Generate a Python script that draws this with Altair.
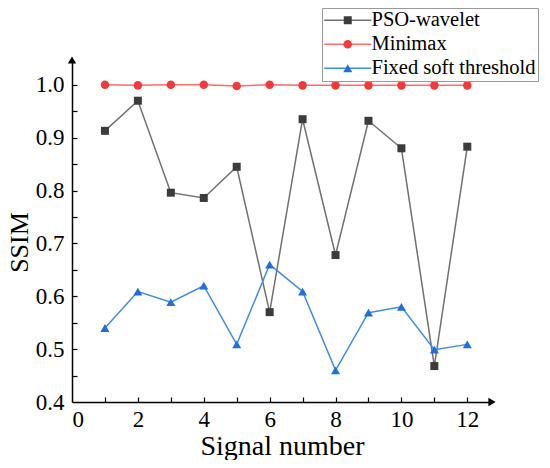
import altair as alt
import pandas as pd

signals = list(range(1, 13))
methods = ["PSO-wavelet", "Minimax", "Fixed soft threshold"]
pso = [0.913, 0.970, 0.796, 0.786, 0.845, 0.570, 0.935, 0.678, 0.932, 0.880, 0.468, 0.883]
minimax = [1.000, 0.999, 1.000, 1.000, 0.998, 1.000, 0.999, 0.999, 0.999, 0.999, 0.999, 0.999]
fixed = [0.540, 0.609, 0.589, 0.620, 0.509, 0.660, 0.609, 0.460, 0.569, 0.580, 0.499, 0.509]
x_ticks_lab = [0, 2, 4, 6, 8, 10, 12]
x_ticks_minor = list(range(1, 13))
y_ticks_lab = [0.4, 0.5, 0.6, 0.7, 0.8, 0.9, 1.0]
y_ticks_minor = [0.45, 0.5, 0.55, 0.6, 0.65, 0.7, 0.75, 0.8, 0.85, 0.9, 0.95, 1.0]
X_END = 12.75
Y_END = 1.047

rows = []
for m, vals in zip(methods, [pso, minimax, fixed]):
    for s, v in zip(signals, vals):
        rows.append({"signal": s, "method": m, "ssim": v})
df = pd.DataFrame(rows)

FONT = "Liberation Serif"
xs = alt.Scale(domain=[0, X_END], nice=False, zero=False)
ys = alt.Scale(domain=[0.4, Y_END], nice=False, zero=False)

line_cols = ["#707070", "#ff6a6a", "#3d8de8"]
mark_cols = ["#3c3c3c", "#f23a3a", "#1f6fe0"]

legend_lines = alt.Legend(
    title=None, orient="none", legendX=250, legendY=-52,
    labelFont=FONT, labelFontSize=20.5, labelColor="black", labelLimit=400,
    labelOffset=13.5, rowPadding=3, padding=2,
    fillColor="white", strokeColor="#999999",
    symbolType="M-4.7,0L4.7,0", symbolSize=100, symbolStrokeWidth=1.5,
    symbolOffset=13.5, zindex=1,
)
legend_marks = alt.Legend(
    title=None, orient="none", legendX=250, legendY=-52,
    labelFont=FONT, labelFontSize=20.5, labelExpr="' '", labelLimit=400,
    labelOffset=1, rowPadding=3, padding=2,
    symbolType="circle", symbolSize=40, symbolStrokeWidth=0, symbolOffset=13.5,
    zindex=2,
)

base = alt.Chart(df)

lines = base.mark_line(strokeWidth=1.5).encode(
    x=alt.X("signal:Q", scale=xs, axis=alt.Axis(
        values=x_ticks_lab, ticks=False, tickSize=0, labelPadding=6, grid=False,
        domainColor="black", domainWidth=1.5, labelFont=FONT, labelFontSize=23,
        labelColor="black", title="Signal number", titleFont=FONT, titleFontSize=28,
        titleFontWeight="normal", titleColor="black",
        titleY=52, titleBaseline="alphabetic")),
    y=alt.Y("ssim:Q", scale=ys, axis=alt.Axis(
        values=y_ticks_lab, format=".1f", ticks=False, tickSize=0, labelPadding=8,
        grid=False, domainColor="black", domainWidth=1.5, labelFont=FONT,
        labelFontSize=23, labelColor="black", title="SSIM", titleFont=FONT,
        titleFontSize=26, titleFontWeight="normal", titleColor="black",
        titleX=-45, titleY=182, titleBaseline="alphabetic")),
    stroke=alt.Stroke("method:N", sort=methods, scale=alt.Scale(range=line_cols), legend=legend_lines),
    detail="method:N",
)

points = base.mark_point(filled=True, opacity=1).encode(
    x=alt.X("signal:Q", scale=xs, axis=alt.Axis(
        orient="top", offset=-342, values=x_ticks_minor, labels=False, domain=False,
        grid=False, tickSize=5, tickColor="black", tickWidth=1.2, title=None)),
    y=alt.Y("ssim:Q", scale=ys, axis=alt.Axis(
        orient="right", offset=-420, values=y_ticks_minor, labels=False, domain=False,
        grid=False, tickSize=5, tickColor="black", tickWidth=1.2, title=None)),
    color=alt.Color("method:N", scale=alt.Scale(domain=methods, range=mark_cols), legend=legend_marks),
    shape=alt.Shape("method:N", scale=alt.Scale(domain=methods, range=["square", "circle", "triangle-up"]), legend=legend_marks),
    size=alt.Size("method:N", scale=alt.Scale(domain=methods, range=[64, 81, 100]), legend=None),
)

arrow_up = alt.Chart(pd.DataFrame({"x": [0], "y": [Y_END]})).mark_point(
    shape="triangle-up", filled=True, color="black", opacity=1, size=70).encode(
    x=alt.X("x:Q", scale=xs, axis=None), y=alt.Y("y:Q", scale=ys, axis=None))
arrow_right = alt.Chart(pd.DataFrame({"x": [X_END], "y": [0.4]})).mark_point(
    shape="triangle-right", filled=True, color="black", opacity=1, size=70).encode(
    x=alt.X("x:Q", scale=xs, axis=None), y=alt.Y("y:Q", scale=ys, axis=None))

chart = alt.layer(lines, points, arrow_up, arrow_right).resolve_axis(
    x="independent", y="independent"
).properties(
    width=420, height=342,
    autosize=alt.AutoSizeParams(type="none"),
    padding={"left": 64, "top": 52, "right": 50, "bottom": 58},
    background="white",
).configure_view(stroke=None)

chart.save("out.html", embed_options={"renderer": "svg", "actions": False})
